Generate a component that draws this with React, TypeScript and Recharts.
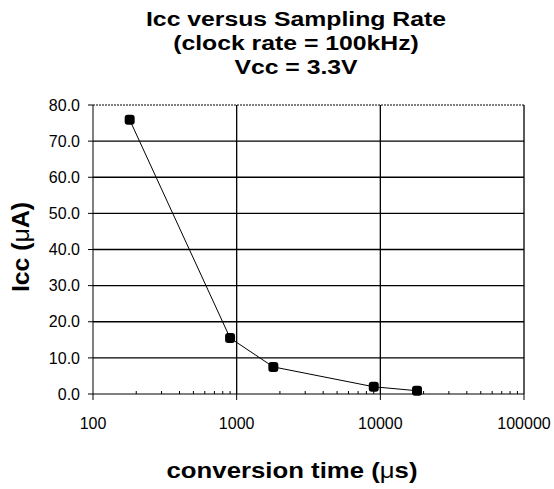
import React from 'react';
import { LineChart, Line, XAxis, YAxis, ReferenceLine } from 'recharts';

const conversionTimes = [180, 900, 1800, 9000, 18000];
const iccValues = [75.9, 15.5, 7.5, 2.0, 0.9];

const xMajorTicks = [100, 1000, 10000, 100000];
const xMinorTicks = [
  200, 300, 400, 500, 600, 700, 800, 900,
  2000, 3000, 4000, 5000, 6000, 7000, 8000, 9000,
  20000, 30000, 40000, 50000, 60000, 70000, 80000, 90000,
];
const yTicks = [0, 10, 20, 30, 40, 50, 60, 70, 80];
const hGridSolid = [10, 20, 30, 40, 50, 60, 70];
const hGridDotted = [80];
const vGrid = [1000, 10000, 100000];

const titleLines = ['Icc versus Sampling Rate', '(clock rate = 100kHz)', 'Vcc = 3.3V'];

const data = conversionTimes.map((t, i) => ({ t, icc: iccValues[i] }));
const allXTicks = [...xMajorTicks, ...xMinorTicks].sort((a, b) => a - b);

const FONT = '"Liberation Sans", Arial, sans-serif';

const XTick = (props: any) => {
  const { x, y, payload } = props;
  const v = payload.value;
  if (xMajorTicks.includes(v)) {
    return (
      <g>
        <line x1={x} x2={x} y1={y} y2={y + 6} stroke="#000" strokeWidth={1} />
        <text x={x} y={y + 35} textAnchor="middle" fontFamily={FONT} fontSize={16} fill="#000">
          {v}
        </text>
      </g>
    );
  }
  return <line x1={x} x2={x} y1={y} y2={y - 3} stroke="#000" strokeWidth={1} />;
};

const Marker = (props: any) => {
  const { cx, cy } = props;
  return <rect x={cx - 5} y={cy - 5} width={10} height={10} rx={3} fill="#000" />;
};

export default function App() {
  return (
    <div style={{ position: 'absolute', left: 0, top: 0, width: 554, height: 489, background: '#fff' }}>
      <LineChart
        width={554}
        height={489}
        data={data}
        margin={{ top: 105, right: 30, bottom: 65, left: 0 }}
      >
        <XAxis
          dataKey="t"
          type="number"
          scale="log"
          domain={[100, 100000]}
          ticks={allXTicks}
          interval={0}
          tickSize={0}
          tickMargin={0}
          tickLine={false}
          axisLine={{ stroke: '#000', strokeWidth: 1 }}
          tick={<XTick />}
          height={30}
          allowDataOverflow
        />
        <YAxis
          type="number"
          domain={[0, 80]}
          ticks={yTicks}
          interval={0}
          width={93}
          tickSize={5}
          tickMargin={8}
          tickLine={{ stroke: '#000' }}
          axisLine={{ stroke: '#000', strokeWidth: 1 }}
          tick={{ fill: '#000', fontSize: 16, fontFamily: FONT }}
          tickFormatter={(v: number) => v.toFixed(1)}
        />
        {hGridSolid.map((v) => (
          <ReferenceLine key={'h' + v} y={v} stroke="#000" strokeWidth={1.4} />
        ))}
        {hGridDotted.map((v) => (
          <ReferenceLine key={'hd' + v} y={v} stroke="#000" strokeWidth={1} strokeDasharray="2 1" />
        ))}
        {vGrid.map((v) => (
          <ReferenceLine key={'v' + v} x={v} stroke="#000" strokeWidth={1.3} />
        ))}
        <Line
          type="linear"
          dataKey="icc"
          stroke="#000"
          strokeWidth={1}
          dot={<Marker />}
          activeDot={false}
          isAnimationActive={false}
        />
      </LineChart>
      <svg
        width={554}
        height={489}
        style={{ position: 'absolute', left: 0, top: 0, pointerEvents: 'none' }}
      >
        {titleLines.map((line, i) => (
          <text
            key={i}
            transform={`translate(296,${26 + i * 24}) scale(1.18,1)`}
            x={0}
            y={0}
            textAnchor="middle"
            fontFamily={FONT}
            fontWeight="bold"
            fontSize={21}
            fill="#000"
          >
            {line}
          </text>
        ))}
        <text
          transform="translate(29,247) rotate(-90) scale(1.08,1)"
          textAnchor="middle"
          fontFamily={FONT}
          fontWeight="bold"
          fontSize={23}
          fill="#000"
        >
          Icc (<tspan fontWeight="normal">μ</tspan>A)
        </text>
        <text
          transform="translate(292,478) scale(1.12,1)"
          textAnchor="middle"
          fontFamily={FONT}
          fontWeight="bold"
          fontSize={23}
          fill="#000"
        >
          conversion time (<tspan fontWeight="normal">μ</tspan>s)
        </text>
      </svg>
    </div>
  );
}
